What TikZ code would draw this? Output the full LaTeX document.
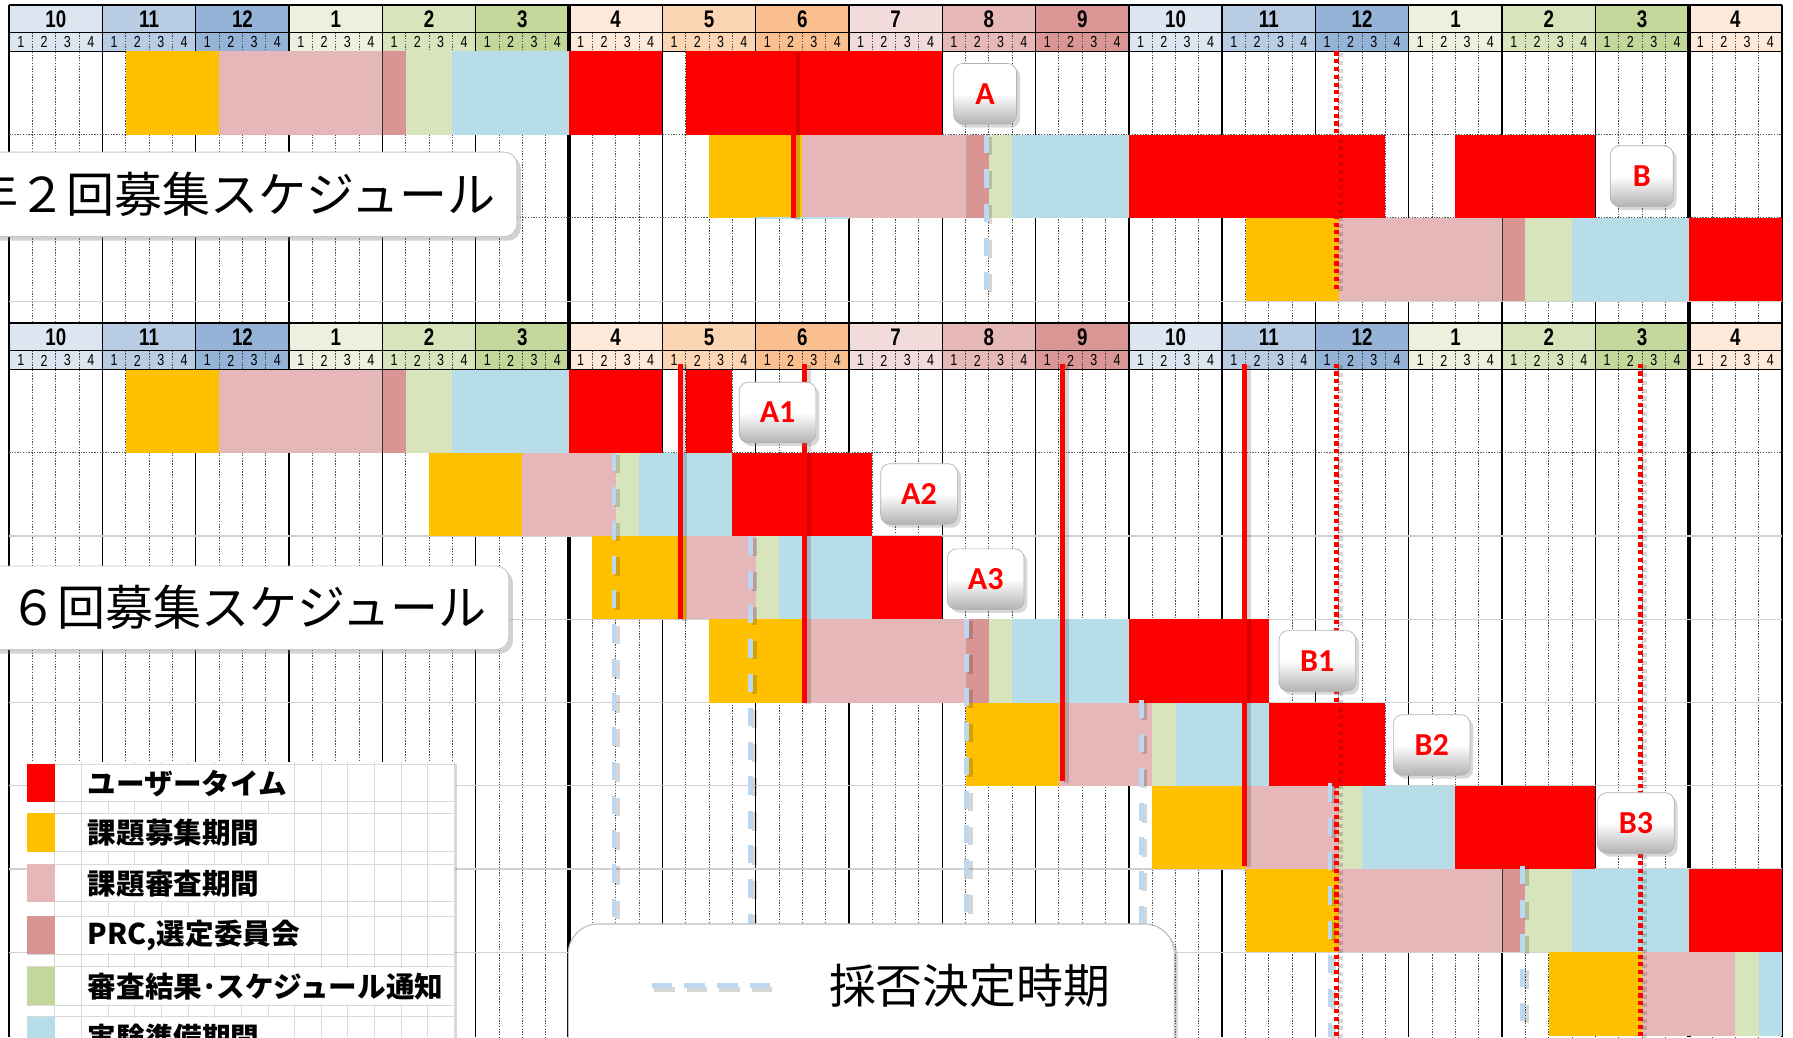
\documentclass[tikz,border=0pt]{standalone}
\usepackage{fontspec}
\setmainfont{Liberation Sans}
\newfontfamily\numfont[FakeStretch=0.78]{Liberation Sans}
\newfontfamily\jpfont{Noto Sans CJK JP}
\newfontfamily\lblfont{Carlito}
\usetikzlibrary{shadows}

\definecolor{mc0}{HTML}{DCE6F1}
\definecolor{mc1}{HTML}{B8CCE4}
\definecolor{mc2}{HTML}{95B3D7}
\definecolor{mc3}{HTML}{EBF1DE}
\definecolor{mc4}{HTML}{D8E4BC}
\definecolor{mc5}{HTML}{C4D79B}
\definecolor{mc6}{HTML}{FDE9D9}
\definecolor{mc7}{HTML}{FCD5B4}
\definecolor{mc8}{HTML}{FABF8F}
\definecolor{mc9}{HTML}{F2DCDB}
\definecolor{mc10}{HTML}{E6B8B7}
\definecolor{mc11}{HTML}{DA9694}
\definecolor{cred}{HTML}{FF0000}
\definecolor{corange}{HTML}{FFC000}
\definecolor{cpink}{HTML}{E5B7B8}
\definecolor{cprc}{HTML}{D99594}
\definecolor{cgreen}{HTML}{D8E4BC}
\definecolor{cgreenL}{HTML}{C4D79B}
\definecolor{cblue}{HTML}{B7DDE8}
\definecolor{cdash}{HTML}{BDD7EE}

\tikzset{
 weekline/.style={line width=0.8pt, black!70, dash pattern=on 1.2pt off 1.2pt},
 monthline/.style={line width=1.2pt, black},
 fyline/.style={line width=3.4pt, black},
 rowdot/.style={line width=0.9pt, black!65, dash pattern=on 1.2pt off 1.2pt},
 rowgray/.style={line width=1.1pt, black!18},
 monthlbl/.style={font=\numfont\bfseries\fontsize{21}{21}\selectfont, inner sep=0},
 weeklbl/.style={font=\numfont\fontsize{14}{14}\selectfont, inner sep=0},
 redline/.style={line width=4.4pt, cred},
 reddot/.style={line width=4.4pt, cred, dash pattern=on 3.6pt off 3.2pt},
 decline/.style={line width=4.2pt, cdash, dash pattern=on 16pt off 14pt},
 tagbox/.style={draw=black!30, line width=0.6pt, rounded corners=8pt,
   top color=white, bottom color=black!30, middle color=white,
   drop shadow={shadow xshift=3pt, shadow yshift=-3pt, opacity=0.3},
   text=cred, font=\lblfont\bfseries\fontsize{28}{28}\selectfont,
   inner sep=0, minimum height=53, minimum width=67},
 titlebox/.style={fill=white, draw=black!22, line width=0.8pt, rounded corners=11pt,
   drop shadow={shadow xshift=3.5pt, shadow yshift=-3.5pt, opacity=0.35}},
 titletext/.style={font=\jpfont\fontsize{42}{42}\selectfont, inner sep=0, anchor=west},
 legtext/.style={font=\jpfont\bfseries\fontsize{25}{25}\selectfont, inner sep=0, anchor=west},
 leggrid/.style={line width=0.9pt, black!15},
}

% #1 header top, #2 rows end, #3 id
\newcommand{\gridsec}[3]{%
  \foreach \k [evaluate=\k as \mci using {int(mod(\k,12))}] in {0,...,18} {
    \fill[mc\mci] ({8+81.6*\k},#1) rectangle ({8+81.6*(\k+1)},{#1+40.5});
  }
  \foreach \j [evaluate=\j as \wrem using {int(mod(\j,4))}] in {0,...,76} {
    \ifnum\wrem=0\relax\else
      \draw[weekline] ({8+20.4*\j},{#1+24}) -- ({8+20.4*\j},#2);
    \fi
  }
  \draw[line width=1.5pt] (8,#1) -- (1558.4,#1);
  \draw[line width=1.2pt] (8,{#1+24}) -- (1558.4,{#1+24});
  \draw[line width=1.5pt] (8,{#1+40.5}) -- (1558.4,{#1+40.5});
  \foreach \k in {1,...,19} {\draw[monthline] ({8+81.6*\k},#1) -- ({8+81.6*\k},#2);}
  \draw[fyline] (497.6,#1) -- (497.6,#2);
  \draw[fyline] (1476.8,#1) -- (1476.8,#2);
  \draw[line width=2pt] (8,#1) -- (8,#2);
  \foreach \k [evaluate=\k as \mno using {int(mod(\k+9,12)+1)}] in {0,...,18} {
    \node[monthlbl] (m#3-\k) at ({8+81.6*(\k+0.5)},{#1+12.5}) {\mno};
  }
  \foreach \j [evaluate=\j as \wno using {int(mod(\j,4)+1)}] in {0,...,75} {
    \node[weeklbl] (w#3-\j) at ({8+20.4*(\j+0.5)},{#1+32.5}) {\wno};
  }
}
% #1 row top, #2 list colour/from/to (weeks)
\newcommand{\barrow}[2]{%
  \foreach \bc/\ba/\bb in {#2} {\fill[\bc] ({8+20.4*\ba},#1) rectangle ({8+20.4*\bb},{#1+72.8});}}
% #1 style, #2 x, #3 y1, #4 y2
\newcommand{\shline}[4]{%
  \draw[#1, black, opacity=0.16] ({#2+3.2},{#3+1.5}) -- ({#2+3.2},{#4+1.5});
  \draw[#1] (#2,#3) -- (#2,#4);}

\begin{document}
\begin{tikzpicture}[x=1pt,y=-1pt]
\useasboundingbox (0,0) rectangle (1568,907);
\clip (0,0) rectangle (1568,907);
\fill[white] (0,0) rectangle (1568,907);

% ---------- grids ----------
\gridsec{4.5}{282.7}{t}
\draw[rowdot] (8,117.8) -- (1558.4,117.8);
\draw[rowdot] (8,190.6) -- (1558.4,190.6);
\draw[rowgray] (8,263.4) -- (1558.4,263.4);
\gridsec{282.7}{907}{b}
\draw[rowdot] (8,396) -- (1558.4,396);
\foreach \yy in {468.8,541.6,614.4,687.2,760,832.8} {\draw[rowgray] (8,\yy) -- (1558.4,\yy);}

% ---------- bars: upper chart ----------
\barrow{45}{corange/5/9, cpink/9/16, cprc/16/17, cgreen/17/19, cblue/19/24, cred/24/28, cred/29/40}
\barrow{117.8}{corange/30/34, cpink/34/41, cprc/41/42, cgreen/42/43, cblue/43/48, cred/48/59, cred/62/68}
\barrow{190.6}{corange/53/57, cpink/57/64, cprc/64/65, cgreen/65/67, cblue/67/72, cred/72/76}
% ---------- bars: lower chart ----------
\barrow{323.2}{corange/5/9, cpink/9/16, cprc/16/17, cgreen/17/19, cblue/19/24, cred/24/28, cred/29/31}
\barrow{396}{corange/18/22, cpink/22/26, cgreen/26/27, cblue/27/31, cred/31/37}
\barrow{468.8}{corange/25/29, cpink/29/32, cgreen/32/33, cblue/33/37, cred/37/40}
\barrow{541.6}{corange/30/34, cpink/34/41, cprc/41/42, cgreen/42/43, cblue/43/48, cred/48/54}
\barrow{614.4}{corange/41/45, cpink/45/49, cgreen/49/50, cblue/50/54, cred/54/59}
\barrow{687.2}{corange/49/53, cpink/53/57, cgreen/57/58, cblue/58/62, cred/62/68}
\barrow{760}{corange/53/57, cpink/57/64, cprc/64/65, cgreen/65/67, cblue/67/72, cred/72/76}
\barrow{832.8}{corange/66/70, cpink/70/74, cgreen/74/75, cblue/75/76}
% month borders that show at PRC start
\foreach \xx/\yy in {334.4/45, 1313.6/190.6, 334.4/323.2, 1313.6/760} {\draw[line width=0.8pt, black!80] (\xx,\yy) -- (\xx,{\yy+72.8});}
\draw[cblue, line width=1.6pt] (660.8,190.6) -- (742.4,190.6);

% ---------- decision-time dashed lines ----------
\shline{decline}{862.5}{118}{268}
\shline{decline}{537}{396}{907}
\shline{decline}{656.5}{469}{907}
\shline{decline}{845.5}{541.6}{907}
\shline{decline}{998}{612}{907}
\shline{decline}{1163}{685}{907}
\shline{decline}{1331.5}{757}{907}

% ---------- red lines ----------
\shline{redline}{694}{45}{190.6}
\shline{reddot}{1169}{45}{254}
\shline{redline}{595.5}{318}{541.6}
\shline{redline}{703.5}{318}{614.4}
\shline{redline}{929.5}{318}{683}
\shline{redline}{1088.5}{318}{757}
\shline{reddot}{1169}{318}{907}
\shline{reddot}{1434.5}{318}{907}

% ---------- tags ----------
\node[tagbox, minimum width=55] (tagA) at (861.5,82) {A};
\node[tagbox, minimum width=55] (tagB) at (1435.7,154) {B};
\node[tagbox] (tagA1) at (680,360.7) {A1};
\node[tagbox] (tagA2) at (803.7,432) {A2};
\node[tagbox] (tagA3) at (862,506.5) {A3};
\node[tagbox] (tagB1) at (1152,578) {B1};
\node[tagbox] (tagB2) at (1252,651.5) {B2};
\node[tagbox] (tagB3) at (1430.6,719.7) {B3};

% ---------- title boxes ----------
\draw[titlebox] (-30,133) rectangle (452,207);
\node[titletext] (title2) at (-26,170) {年２回募集スケジュール};
\draw[titlebox] (-30,495) rectangle (445,568);
\node[titletext] (title6) at (8,531) {６回募集スケジュール};

% ---------- legend ----------
\fill[white, drop shadow={shadow xshift=3pt, shadow yshift=-2pt, opacity=0.3}] (24,666) rectangle (397,930);
\foreach \i in {0,...,15} {\draw[leggrid] ({48+23.3*\i},666) -- ({48+23.3*\i},907);}
\foreach \yy in {668.4,701.1,711.3,744.8,755.6,788.6,801.1,834.3,845.4,878.9,889.1} {\draw[leggrid] (24,\yy) -- (397,\yy);}
\fill[white] (72,669.2) rectangle (257,700.3);
\fill[white] (72,712.1) rectangle (257,744.0);
\fill[white] (72,756.4) rectangle (257,787.8);
\fill[white] (72,801.9) rectangle (280,833.5);
\fill[white] (72,846.2) rectangle (397,878.1);
\fill[white] (72,889.9) rectangle (257,907);
\fill[cred] (24,668.4) rectangle (48,701.1);
\fill[corange] (24,711.3) rectangle (48,744.8);
\fill[cpink] (24,755.6) rectangle (48,788.6);
\fill[cprc] (24,801.1) rectangle (48,834.3);
\fill[cgreenL] (24,845.4) rectangle (48,878.9);
\fill[cblue] (24,889.1) rectangle (48,925);
\node[legtext] (leg1) at (76.7,685) {ユーザータイム};
\node[legtext] (leg2) at (76.7,728.5) {課題募集期間};
\node[legtext] (leg3) at (76.7,772.5) {課題審査期間};
\node[legtext] (leg4) at (76.7,818) {PRC,選定委員会};
\node[legtext] (leg5) at (76.7,862.5) {審査結果･スケジュール通知};
\node[legtext] (leg6) at (76.7,907) {実験準備期間};

% ---------- decision legend box ----------
\draw[fill=white, draw=black!25, line width=1pt, rounded corners=26pt,
  drop shadow={shadow xshift=3pt, shadow yshift=-3pt, opacity=0.3}] (497,808) rectangle (1027,960);
\draw[decline, black, opacity=0.16, dash pattern=on 18pt off 10.5pt] (572,865) -- (686,865);
\draw[decline, dash pattern=on 18pt off 10.5pt] (570,862) -- (684,862);
\node[font=\jpfont\fontsize{41}{41}\selectfont, inner sep=0] (decide) at (848,862) {採否決定時期};
\end{tikzpicture}
\end{document}
